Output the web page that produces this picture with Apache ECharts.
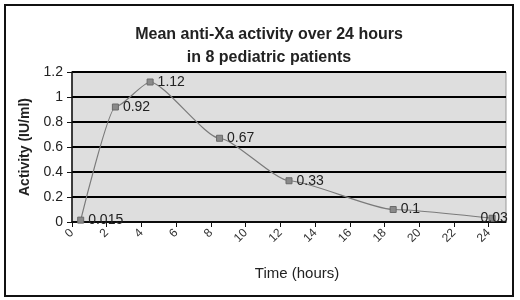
<!DOCTYPE html>
<html>
<head>
<meta charset="utf-8">
<script src="https://cdn.jsdelivr.net/npm/echarts@6/dist/echarts.min.js"></script>
<style>
  html, body { margin: 0; padding: 0; background: #fff; }
  #chart { width: 520px; height: 300px; }
</style>
</head>
<body>
<div id="chart"></div>
<script>
// 时间点 (小时) 和平均 anti-Xa 活性
var timeHours = [0.5, 2.5, 4.5, 8.5, 12.5, 18.5, 24.2];
var activity = [0.015, 0.92, 1.12, 0.67, 0.33, 0.1, 0.03];
var activityLabels = ['0.015', '0.92', '1.12', '0.67', '0.33', '0.1', '0.03'];

var points = [];
for (var i = 0; i < timeHours.length; i++) {
    var lbl = { formatter: activityLabels[i] };
    if (i === timeHours.length - 1) {   // 最后一个标签压在点上
        lbl.position = 'inside';
        lbl.offset = [2, 0];
    }
    points.push({ value: [timeHours[i], activity[i]], label: lbl });
}

var myChart = echarts.init(document.getElementById('chart'));
var font = 'Liberation Sans, Arial, sans-serif';

var option = {
    animation: false,
    title: {
        text: 'Mean anti-Xa activity over 24 hours\nin 8 pediatric patients',
        left: 264,
        textAlign: 'center',
        top: 18,
        textStyle: { fontFamily: font, fontSize: 16, fontWeight: 'bold', color: '#222', lineHeight: 23 }
    },
    graphic: [{
        type: 'rect',
        shape: { x: 5, y: 5, width: 508, height: 291 },
        style: { fill: null, stroke: '#111', lineWidth: 2 },
        z: 100
    }],
    grid: {
        left: 72, right: 14, top: 72, bottom: 78,
        show: true,
        backgroundColor: '#dedede',
        borderColor: '#999',
        borderWidth: 1
    },
    xAxis: {
        type: 'value',
        min: 0, max: 25, interval: 2,
        name: 'Time (hours)',
        nameLocation: 'middle',
        nameGap: 44,
        nameTextStyle: { fontFamily: font, fontSize: 15, color: '#222', padding: [0, 0, 0, 16] },
        axisLine: { show: true, lineStyle: { color: '#111', width: 1.5 } },
        axisTick: { show: true, length: 5, lineStyle: { color: '#111' } },
        axisLabel: { rotate: 45, fontFamily: font, fontSize: 12, color: '#333', margin: 9, showMaxLabel: false },
        splitLine: { show: false }
    },
    yAxis: {
        type: 'value',
        min: 0, max: 1.2, interval: 0.2,
        name: 'Activity (IU/ml)',
        nameLocation: 'middle',
        nameGap: 40,
        nameTextStyle: { fontFamily: font, fontSize: 14, fontWeight: 'bold', color: '#222' },
        axisLine: { show: true, lineStyle: { color: '#111', width: 1.5 } },
        axisTick: { show: true, length: 5, lineStyle: { color: '#111' } },
        axisLabel: { fontFamily: font, fontSize: 14, color: '#222', margin: 9,
            formatter: function (v) { return String(Math.round(v * 10) / 10); } },
        splitLine: { show: true, lineStyle: { color: '#000', width: 2 } }
    },
    series: [{
        type: 'line',
        data: points,
        smooth: 0.2,
        smoothMonotone: 'x',
        symbol: 'rect',
        symbolSize: 6,
        lineStyle: { color: '#7a7a7a', width: 1.2 },
        itemStyle: { color: '#8a8a8a', borderColor: '#6a6a6a', borderWidth: 1 },
        label: {
            show: true,
            position: 'right',
            distance: 4,
            fontFamily: font,
            fontSize: 14,
            color: '#222'
        }
    }]
};

myChart.setOption(option);
window.onresize = function () { myChart.resize(); };
</script>
</body>
</html>
